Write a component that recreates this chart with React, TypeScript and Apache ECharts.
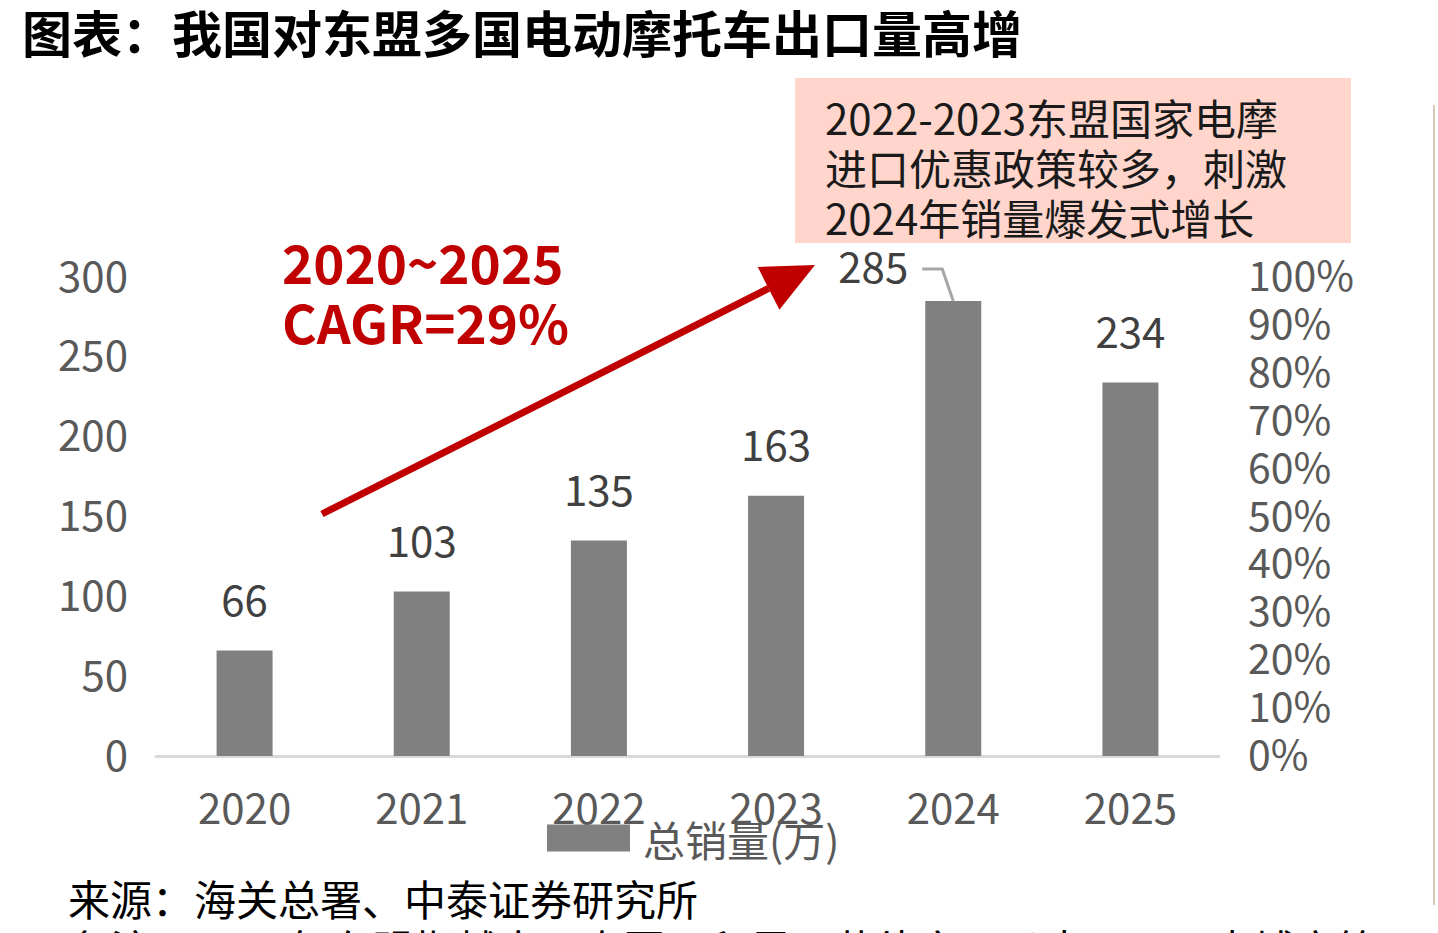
import React, { useEffect, useRef } from "react";
import * as echarts from "echarts";

const years = ["2020", "2021", "2022", "2023", "2024", "2025"];
const totalSales = [66, 103, 135, 163, 285, 234];
const leftTicks = { min: 0, max: 300, interval: 50 };
const rightTicks = { min: 0, max: 1, interval: 0.1 };
const seriesName = "总销量(万)";
const titleText = "图表：我国对东盟多国电动摩托车出口量高增";
const noteLines = ["2022-2023东盟国家电摩", "进口优惠政策较多，刺激", "2024年销量爆发式增长"];
const cagrLines = ["2020~2025", "CAGR=29%"];
const sourceText = "来源：海关总署、中泰证券研究所";
const remarkText = "备注：2025年东盟指越南、泰国、印尼、菲律宾、马来西亚、柬埔寨等";

const FONT = '"Noto Sans CJK SC", "Noto Sans", sans-serif';
const AXIS_GREY = "#595959";
const AXIS_FONT = 42;

// tick text lifted slightly so the glyphs sit centred on the tick
const tickRich = (size: number) => ({
  t: { fontSize: size, color: AXIS_GREY, fontFamily: FONT, padding: [0, 0, 8, 0] },
});

export default function App() {
  const ref = useRef<HTMLDivElement>(null);

  useEffect(() => {
    if (!ref.current) return;
    const chart = echarts.init(ref.current, undefined, { renderer: "svg" });

    const peakIndex = totalSales.indexOf(Math.max(...totalSales));

    const option: any = {
      animation: false,
      backgroundColor: "#ffffff",
      textStyle: { fontFamily: FONT },
      grid: { left: 156, right: 219, top: 277, bottom: 177, containLabel: false },
      legend: {
        data: [seriesName],
        left: 542,
        top: 812,
        itemWidth: 83,
        itemHeight: 27,
        icon: "rect",
        textStyle: { fontSize: AXIS_FONT, color: AXIS_GREY, fontFamily: FONT, padding: [0, 0, 6, 8] },
      },
      xAxis: {
        type: "category",
        data: years,
        axisLine: { lineStyle: { color: "#d9d9d9", width: 3 } },
        axisTick: { show: false },
        axisLabel: { fontSize: AXIS_FONT, color: AXIS_GREY, margin: 28, fontFamily: FONT },
      },
      yAxis: [
        {
          type: "value",
          ...leftTicks,
          axisLine: { show: false },
          axisTick: { show: false },
          splitLine: { show: false },
          axisLabel: {
            margin: 28,
            showMinLabel: true,
            showMaxLabel: true,
            hideOverlap: false,
            formatter: (v: number) => `{t|${v}}`,
            rich: tickRich(AXIS_FONT),
          },
        },
        {
          type: "value",
          position: "right",
          ...rightTicks,
          axisLine: { show: false },
          axisTick: { show: false },
          splitLine: { show: false },
          axisLabel: {
            margin: 29,
            showMinLabel: true,
            showMaxLabel: true,
            hideOverlap: false,
            formatter: (v: number) => `{t|${Math.round(v * 100)}%}`,
            rich: tickRich(41),
          },
        },
      ],
      series: [
        {
          name: seriesName,
          type: "bar",
          yAxisIndex: 0,
          barWidth: 56,
          itemStyle: { color: "#808080" },
          label: {
            show: true,
            position: "top",
            distance: 32,
            fontSize: AXIS_FONT,
            color: "#404040",
            fontFamily: FONT,
          },
          data: totalSales.map((v, i) =>
            i === peakIndex
              ? { value: v, label: { offset: [-80, 17] } }
              : v
          ),
        },
      ],
    };

    chart.setOption(option);

    // peak bar: label pulled to the left with a leader line
    const peak = chart.convertToPixel({ seriesIndex: 0 }, [years[peakIndex], totalSales[peakIndex]]) as number[];

    // arrow geometry
    const tail = [322, 514];
    const tip = [815, 265];
    const dx = tip[0] - tail[0];
    const dy = tip[1] - tail[1];
    const len = Math.hypot(dx, dy);
    const ux = dx / len;
    const uy = dy / len;
    const nx = -uy;
    const ny = ux;
    const headLen = 52;
    const headHalf = 24;
    const base = [tip[0] - headLen * ux, tip[1] - headLen * uy];

    chart.setOption({
      graphic: [
        {
          type: "text",
          left: 22,
          top: 6,
          style: { text: titleText, font: `bold 50px ${FONT}`, fill: "#000000" },
        },
        {
          type: "rect",
          shape: { x: 795, y: 78, width: 556, height: 165 },
          style: { fill: "#ffd5cc" },
        },
        ...noteLines.map((t, i) => ({
          type: "text",
          x: 825,
          y: 116 + i * 50,
          style: {
            text: t,
            font: `42px ${FONT}`,
            fill: "#1a1a1a",
            textVerticalAlign: "middle",
          },
        })),
        ...cagrLines.map((t, i) => ({
          type: "text",
          x: 282,
          y: 261 + i * 60,
          style: {
            text: t,
            font: `bold 53px ${FONT}`,
            fill: "#c00000",
            textVerticalAlign: "middle",
          },
        })),
        {
          type: "line",
          shape: { x1: tail[0], y1: tail[1], x2: base[0], y2: base[1] },
          style: { stroke: "#c00000", lineWidth: 7 },
        },
        {
          type: "polygon",
          shape: {
            points: [
              tip,
              [base[0] + headHalf * nx, base[1] + headHalf * ny],
              [base[0] - headHalf * nx, base[1] - headHalf * ny],
            ],
          },
          style: { fill: "#c00000" },
        },
        {
          type: "polyline",
          shape: {
            points: [
              [peak[0] - 31, peak[1] - 32],
              [peak[0] - 11, peak[1] - 32],
              [peak[0], peak[1]],
            ],
          },
          style: { stroke: "#a6a6a6", lineWidth: 3, fill: "none" },
        },
        {
          type: "line",
          shape: { x1: 1434, y1: 105, x2: 1434, y2: 905 },
          style: { stroke: "#d9cbb8", lineWidth: 2 },
        },
        {
          type: "text",
          x: 68,
          y: 897,
          style: {
            text: sourceText,
            font: `42px ${FONT}`,
            fill: "#000000",
            textVerticalAlign: "middle",
          },
        },
        {
          type: "text",
          x: 68,
          y: 947,
          style: {
            text: remarkText,
            font: `42px ${FONT}`,
            fill: "#000000",
            textVerticalAlign: "middle",
          },
        },
      ],
    });

    return () => chart.dispose();
  }, []);

  return (
    <div
      ref={ref}
      style={{ position: "fixed", left: 0, top: 0, width: 1438, height: 933 }}
    />
  );
}
